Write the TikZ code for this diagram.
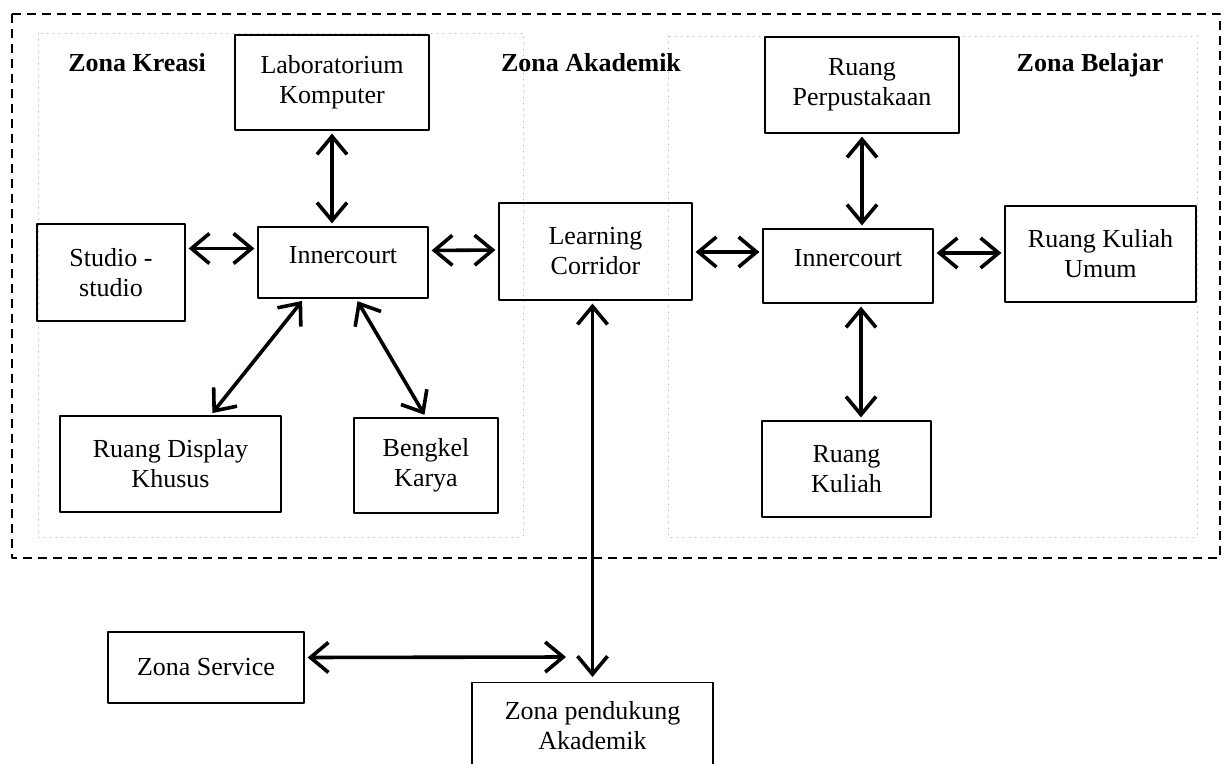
\documentclass[tikz,border=0pt]{standalone}
\usepackage{fontspec}
\setmainfont{Liberation Serif}
\usetikzlibrary{arrows.meta}
\usetikzlibrary{positioning}
\usetikzlibrary{calc}

\tikzset{
  ruang/.style={draw,line width=0.6pt,align=center,inner sep=2pt,font=\fontsize{13}{15}\selectfont},
  zona/.style={font=\fontsize{13}{15}\selectfont\bfseries},
  conn/.style={<->,line width=1.8pt,shorten <=1.5pt,shorten >=1.5pt},
  batas/.style={gray!55,line width=0.4pt,dash pattern=on 0.5pt off 2.5pt},
}

\begin{document}
\begin{tikzpicture}[line cap=round,line join=round,>={Straight Barb[length=9pt,width=15pt]},x=0.5pt,y=-0.5pt]
\useasboundingbox (0,0) rectangle (1225,764);
% outer zone and the two sub-zones
\draw[line width=1pt,line cap=butt,dash pattern=on 4.5pt off 3pt] (12,14) rectangle (1220,558);
\draw[batas] (38,33) rectangle (523,537);
\draw[batas] (668,36) rectangle (1197,537);

\draw (137,63) node[zona] (kreasi) {Zona Kreasi};
\draw (591,63) node[zona] (akademik) {Zona Akademik};
\draw (1090,65) node[zona] (belajar) {Zona Belajar};

% Zona Kreasi
\draw (332,82.5) node[ruang,minimum width=97pt,minimum height=47.5pt] (lab) {Laboratorium\\Komputer};
\draw (111,272.5) node[ruang,minimum width=74pt,minimum height=48.5pt] (studio) {Studio -\\studio};
\draw (343,262.5) node[ruang,minimum width=85pt,minimum height=35.5pt,text depth=8pt] (inn1) {Innercourt};
\draw (170.5,464) node[ruang,minimum width=110.5pt,minimum height=48pt] (disp) {Ruang Display\\Khusus};
\draw (426,465.5) node[ruang,minimum width=72pt,minimum height=47.5pt] (bengkel) {Bengkel\\Karya};

% Zona Akademik
\draw (595.5,251.5) node[ruang,minimum width=96.5pt,minimum height=48.5pt] (lc) {Learning\\Corridor};

% Zona Belajar
\draw (862,85) node[ruang,minimum width=97pt,minimum height=48pt] (perpus) {Ruang\\Perpustakaan};
\draw (848,266) node[ruang,minimum width=85pt,minimum height=37pt,text depth=8pt] (inn2) {Innercourt};
\draw (1100.5,254) node[ruang,minimum width=95.5pt,minimum height=48pt] (rku) {Ruang Kuliah\\Umum};
\draw (846.5,469) node[ruang,minimum width=84.5pt,minimum height=48pt] (rk) {Ruang\\Kuliah};

% outside the zones
\draw (206,667.5) node[ruang,minimum width=98pt,minimum height=35.5pt] (svc) {Zona Service};
\draw (592.5,682) node[ruang,anchor=north,minimum width=120.5pt,minimum height=43pt] (pend) {Zona pendukung\\Akademik};
\coordinate (svcend) at (569,657);

\path (lab.south) edge[conn] (lab.south |- inn1.north);
\path ([yshift=12pt]studio.east) edge[conn] ([yshift=7pt]inn1.west);
\path ([yshift=6pt]inn1.east) edge[conn] ([yshift=0.75pt]lc.west);
\path ([xshift=-19.5pt]inn1.south) edge[conn] ([xshift=20pt]disp.north);
\path ([xshift=6.5pt]inn1.south) edge[conn] (bengkel.north);
\path ([yshift=-0.25pt]lc.east) edge[conn] ([yshift=7pt]inn2.west);
\path (perpus.south) edge[conn] (perpus.south |- inn2.north);
\path ([yshift=6.5pt]inn2.east) edge[conn] ([yshift=0.5pt]rku.west);
\path ([xshift=6.5pt]inn2.south) edge[conn] ([xshift=7.25pt]rk.north);
\path (pend.north |- lc.south) edge[conn,shorten >=2.5pt] (pend.north);
\path ([yshift=5pt]svc.east) edge[conn] (svcend);
\end{tikzpicture}
\end{document}
